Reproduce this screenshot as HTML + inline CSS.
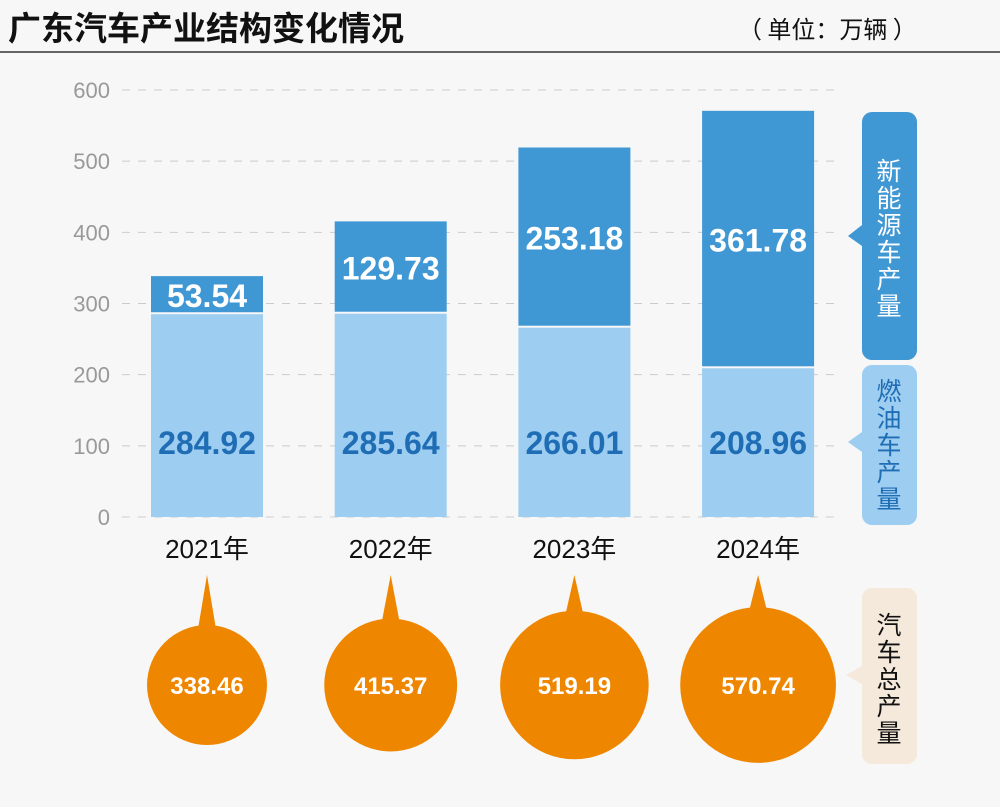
<!DOCTYPE html>
<html><head><meta charset="utf-8"><style>
body{margin:0;width:1000px;height:802px;background:#f7f7f7;overflow:hidden;font-family:"Liberation Sans","Noto Sans CJK SC",sans-serif}
</style></head><body>
<svg width="1000" height="802" xmlns="http://www.w3.org/2000/svg">
<text x="8" y="40" font-size="33" font-weight="bold" fill="#111" font-family="Noto Sans CJK SC, sans-serif">广东汽车产业结构变化情况</text>
<text x="738" y="38" font-size="24" fill="#111" font-family="Noto Sans CJK SC, sans-serif">（ 单位：万辆 ）</text>
<line x1="0" y1="52" x2="1000" y2="52" stroke="#333" stroke-width="1.5"/>
<g id="grid"></g><g id="bars"></g><g id="bubbles"></g>
<g>
<rect x="862" y="112" width="55" height="248" rx="10" fill="#3f97d4"/>
<polygon points="862,225 848,236 862,246" fill="#3f97d4"/>
<g id="lg1" fill="#fff"></g>
</g>
<g>
<rect x="862" y="365" width="55" height="160" rx="10" fill="#9dcdf0"/>
<polygon points="862,432 848,442 862,452" fill="#9dcdf0"/>
<g id="lg2" fill="#1f6db5"></g>
</g>
<g>
<rect x="862" y="588" width="55" height="176" rx="10" fill="#f5e9dc"/>
<polygon points="862,666 846,675 862,684" fill="#f5e9dc"/>
<g id="lg3" fill="#111"></g>
</g>
</svg>
<script>
const years=['2021年','2022年','2023年','2024年'];
const fuel=[284.92,285.64,266.01,208.96];
const nev=[53.54,129.73,253.18,361.78];
const total=[338.46,415.37,519.19,570.74];
const ticks=[0,100,200,300,400,500,600];
const NS='http://www.w3.org/2000/svg';
const y0=517,pxPer=427/600;
const Y=v=>y0-v*pxPer;
const X=i=>151+i*183.7;
const BW=112;
function mk(tag,attrs,parent,txt){const e=document.createElementNS(NS,tag);for(const k in attrs)e.setAttribute(k,attrs[k]);if(txt!==undefined)e.textContent=txt;parent.appendChild(e);return e;}
function vtext(id,str,top){const g=document.getElementById(id);[...str].forEach((c,k)=>{mk('text',{x:889,y:top+k*27,'font-size':25,'text-anchor':'middle','font-family':'Noto Sans CJK SC, sans-serif'},g,c);});}
vtext('lg1','新能源车产量',180);
vtext('lg2','燃油车产量',400);
vtext('lg3','汽车总产量',634);
const grid=document.getElementById('grid'),bars=document.getElementById('bars'),bub=document.getElementById('bubbles');
ticks.forEach(t=>{
 const l=mk('line',{x1:122,x2:840,y1:Y(t),y2:Y(t),stroke:'#ccc','stroke-dasharray':'8,8'},grid);
 
 
 const tx=mk('text',{x:110,y:Y(t)+8,'font-size':22,fill:'#999','text-anchor':'end'},grid,t);
 
 
});
years.forEach((yr,i)=>{
 const x=X(i),cx=x+BW/2;
 const f=mk('rect',{x:x,y:Y(fuel[i]),width:BW,height:Y(0)-Y(fuel[i]),fill:'#9dcdf0'},bars);
 
 
 const n=mk('rect',{x:x,y:Y(fuel[i]+nev[i]),width:BW,height:Y(fuel[i])-Y(fuel[i]+nev[i])-2,fill:'#3f97d4'},bars);
 
 
 const fl=mk('text',{x:cx,y:454,'font-size':32,'font-weight':'bold',fill:'#1f6db5','text-anchor':'middle'},bars,fuel[i].toFixed(2));
 
 
 const nm=(Y(fuel[i])+Y(fuel[i]+nev[i]))/2;
 const nl=mk('text',{x:cx,y:nm+12,'font-size':32,'font-weight':'bold',fill:'#fff','text-anchor':'middle'},bars,nev[i].toFixed(2));
 if(nev[i]<80){nl.setAttribute('stroke','#3f97d4');nl.setAttribute('stroke-width','3');nl.setAttribute('paint-order','stroke');}
 
 
 const yl=mk('text',{x:cx,y:558,'font-size':26,fill:'#111','text-anchor':'middle'},bars,yr);
 
 
 const r=3.26*Math.sqrt(total[i]),cy=685;
 const g=mk('g',{},bub);
 
 
 mk('polygon',{points:`${cx-9},${cy-r+4} ${cx},575 ${cx+9},${cy-r+4}`,fill:'#ef8600'},g);
 mk('circle',{cx:cx,cy:cy,r:r,fill:'#ef8600'},g);
 mk('text',{x:cx,y:cy+9,'font-size':24,'font-weight':'bold',fill:'#fff','text-anchor':'middle'},g,total[i].toFixed(2));
});
</script>
</body></html>
